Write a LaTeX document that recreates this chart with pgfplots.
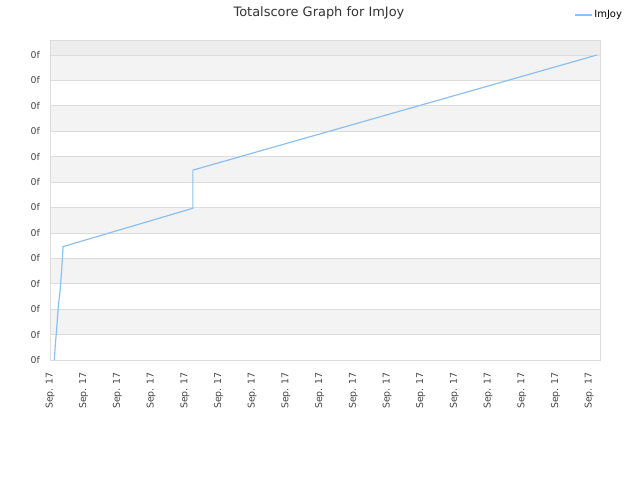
\documentclass[border=0pt]{standalone}
\usepackage{fontspec}
\setmainfont{DejaVu Sans}
\usepackage{pgfplots}
\pgfplotsset{compat=1.18}
\definecolor{bandgray}{RGB}{243,243,243}
\definecolor{topgray}{RGB}{237,237,237}
\definecolor{gridgray}{RGB}{221,221,221}
\definecolor{linecol}{RGB}{140,192,242}
\definecolor{txtgray}{RGB}{68,68,68}
\begin{document}
\begin{tikzpicture}
\path (0bp,0bp) rectangle (640bp,480bp);
\begin{axis}[
  set layers,
  at={(50bp,120bp)}, anchor=south west,
  scale only axis, width=550bp, height=320bp,
  xmin=0, xmax=16.32, ymin=0, ymax=12.59,
  xtick={0,...,16}, ytick={0,...,12},
  xticklabel={Sep. 17}, yticklabel={0f},
  major tick length=0pt,
  axis line style={draw=gridgray},
  ymajorgrids, grid style={draw=gridgray, line width=0.8bp},
  xticklabel style={rotate=90, anchor=east, inner sep=0pt, font=\fontsize{9.4}{10}\selectfont, text=txtgray},
  yticklabel style={anchor=east, inner sep=0pt, font=\fontsize{9.4}{10}\selectfont, text=txtgray},
  xticklabel shift=12bp, yticklabel shift=10bp,
  title={Totalscore Graph for ImJoy},
  title style={at={(axis description cs:0.489,1.056)}, anchor=base, inner sep=0pt, font=\fontsize{13}{14}\selectfont, text={rgb,255:red,51;green,51;blue,51}},
  legend style={at={(axis description cs:0.9527,1.078)}, anchor=west, draw=none, fill=none, inner sep=0pt, font=\fontsize{10}{12}\selectfont, legend cell align=left},
  legend image code/.code={\draw[#1, line width=1.2bp] (0bp,0bp) -- (11bp,0bp); \path (0bp,0bp) -- (17bp,0bp);},
]
\begin{pgfonlayer}{axis background}
\fill[topgray] (axis cs:0,12) rectangle (axis cs:16.32,12.59);
\fill[bandgray] (axis cs:0,1) rectangle (axis cs:16.32,2);
\fill[bandgray] (axis cs:0,3) rectangle (axis cs:16.32,4);
\fill[bandgray] (axis cs:0,5) rectangle (axis cs:16.32,6);
\fill[bandgray] (axis cs:0,7) rectangle (axis cs:16.32,8);
\fill[bandgray] (axis cs:0,9) rectangle (axis cs:16.32,10);
\fill[bandgray] (axis cs:0,11) rectangle (axis cs:16.32,12);
\end{pgfonlayer}
\addplot[color=linecol, line width=1.2bp, mark=none] coordinates {
(0.128,0) (0.157,0.59) (0.187,1.05) (0.217,1.57) (0.246,2.10) (0.276,2.44)
(0.306,2.83) (0.335,3.34) (0.365,3.93) (0.386,4.46)
(4.24,5.97) (4.24,7.47) (16.23,12.0)
};
\addlegendentry{ImJoy}
\end{axis}
\end{tikzpicture}
\end{document}
